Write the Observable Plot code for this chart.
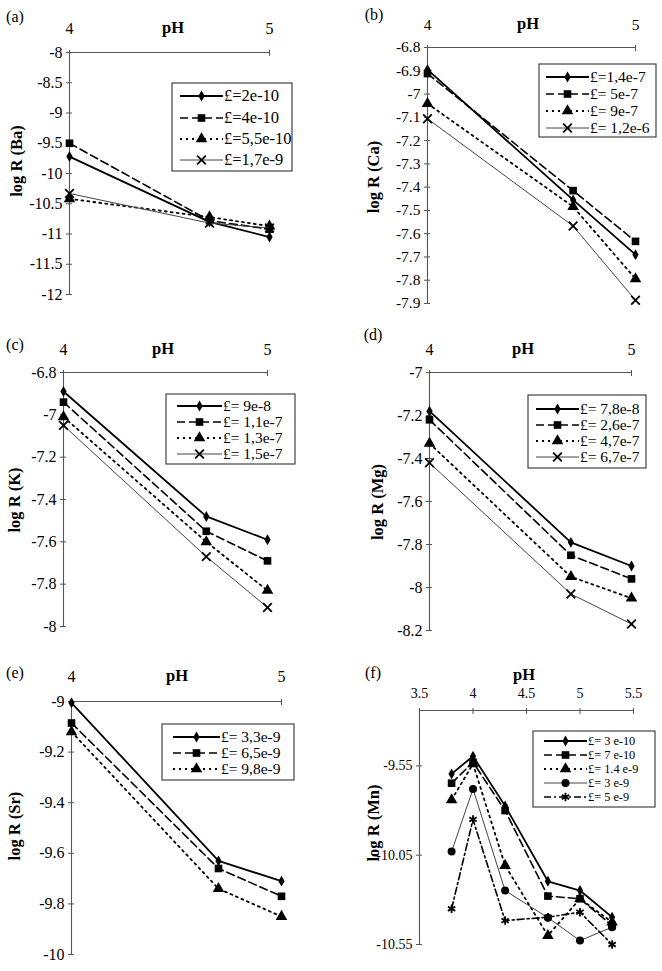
<!DOCTYPE html>
<html><head><meta charset="utf-8">
<script src="https://cdn.jsdelivr.net/npm/d3@7"></script>
<script src="https://cdn.jsdelivr.net/npm/@observablehq/plot@0.6"></script>
<style>
body{margin:0;background:#fff;}
#fig{position:relative;width:662px;height:971px;font-family:"Liberation Serif","Times New Roman",serif;overflow:hidden;}
.panel{position:absolute;}
</style></head><body><div id="fig"></div>
<script>
// ---------- DATA ----------
const pH3 = [4, 4.7, 5];
const pHMn = [3.8, 4.0, 4.3, 4.7, 5.0, 5.3];

const baNames = ["£=2e-10", "£=4e-10", "£=5,5e-10", "£=1,7e-9"];
const baValues = [
  [-9.72, -10.80, -11.05],
  [-9.50, -10.78, -10.92],
  [-10.42, -10.72, -10.87],
  [-10.33, -10.82, -10.90]
];
const baYTicks = [-8, -8.5, -9, -9.5, -10, -10.5, -11, -11.5, -12];

const caNames = ["£=1,4e-7", "£= 5e-7", "£= 9e-7", "£= 1,2e-6"];
const caValues = [
  [-6.895, -7.455, -7.69],
  [-6.912, -7.415, -7.633],
  [-7.041, -7.484, -7.794],
  [-7.106, -7.567, -7.886]
];
const caYTicks = [-6.8, -6.9, -7, -7.1, -7.2, -7.3, -7.4, -7.5, -7.6, -7.7, -7.8, -7.9];

const kNames = ["£= 9e-8", "£= 1,1e-7", "£= 1,3e-7", "£= 1,5e-7"];
const kValues = [
  [-6.89, -7.48, -7.59],
  [-6.94, -7.55, -7.69],
  [-7.01, -7.60, -7.83],
  [-7.05, -7.67, -7.91]
];
const kYTicks = [-6.8, -7, -7.2, -7.4, -7.6, -7.8, -8];

const mgNames = ["£= 7,8e-8", "£= 2,6e-7", "£= 4,7e-7", "£= 6,7e-7"];
const mgValues = [
  [-7.18, -7.79, -7.90],
  [-7.22, -7.85, -7.96],
  [-7.33, -7.95, -8.05],
  [-7.42, -8.03, -8.17]
];
const mgYTicks = [-7, -7.2, -7.4, -7.6, -7.8, -8, -8.2];

const srNames = ["£= 3,3e-9", "£= 6,5e-9", "£= 9,8e-9"];
const srValues = [
  [-9.005, -9.63, -9.71],
  [-9.085, -9.66, -9.77],
  [-9.12, -9.74, -9.85]
];
const srYTicks = [-9, -9.2, -9.4, -9.6, -9.8, -10];

const mnNames = ["£= 3 e-10", "£= 7 e-10", "£= 1.4 e-9", "£= 3 e-9", "£= 5 e-9"];
const mnValues = [
  [-9.595, -9.496, -9.774, -10.196, -10.248, -10.397],
  [-9.647, -9.530, -9.800, -10.279, -10.294, -10.444],
  [-9.740, -9.539, -10.108, -10.500, -10.294, -10.425],
  [-10.030, -9.679, -10.248, -10.400, -10.528, -10.453],
  [-10.350, -9.850, -10.416, -10.397, -10.369, -10.550]
];
const mnYTicks = [-9.55, -10.05, -10.55];
const xTicks45 = [4, 5];
const xTicksMn = [3.5, 4, 4.5, 5, 5.5];

// ---------- STYLES ----------
const AXIS = "#555";
const S_SOLID  = {stroke: "#000", w: 1.8, dash: null,      sym: "diamond",  r: 3.3, filled: true};
const S_DASH   = {stroke: "#000", w: 1.6, dash: "8,4",     sym: "square",   r: 4.3, filled: true};
const S_DOT    = {stroke: "#000", w: 1.8, dash: "2,4",     sym: "triangle", r: 4.3, filled: true};
const S_THIN   = {stroke: "#444", w: 1.0, dash: null,      sym: "times",    r: 4.0, filled: false};
const S_THINC  = {stroke: "#444", w: 1.0, dash: null,      sym: "circle",   r: 4.0, filled: true};
const S_DDOT   = {stroke: "#000", w: 1.6, dash: "7,3,2,3", sym: "asterisk", r: 4.0, filled: false};

const symbolMap = {diamond: d3.symbolDiamond, square: d3.symbolSquare, triangle: d3.symbolTriangle,
  times: d3.symbolTimes, circle: d3.symbolCircle, asterisk: d3.symbolAsterisk};

const panels = [
  {letter: "(a)", ylab: "log R (Ba)", names: baNames, values: baValues, xs: pH3, yTicks: baYTicks, xTicks: xTicks45,
   xDomain: [4, 5], yDomain: [-12, -8], styles: [S_SOLID, S_DASH, S_DOT, S_THIN],
   left: 0, top: 0, w: 331, h: 320, m: [52, 62, 26, 69], xPad: 24, fs: 16,
   letterPos: [15, 17], ylabPos: [17, 161], phPos: [173, 28],
   legend: {x: 172, y: 83, w: 120, h: 88, rows: [96, 118, 139, 160], lx0: 180, lx1: 223, fs: 16.5}},
  {letter: "(b)", ylab: "log R (Ca)", names: caNames, values: caValues, xs: pH3, yTicks: caYTicks, xTicks: xTicks45,
   xDomain: [4, 5], yDomain: [-7.9, -6.8], styles: [S_SOLID, S_DASH, S_DOT, S_THIN],
   left: 331, top: 0, w: 331, h: 320, m: [47, 27, 17, 96], xPad: 23, fs: 15.5,
   letterPos: [43, 15], ylabPos: [43, 177], phPos: [197, 24],
   legend: {x: 208, y: 64, w: 117, h: 73, rows: [77, 94, 111, 128], lx0: 215, lx1: 258, fs: 15.5}},
  {letter: "(c)", ylab: "log R (K)", names: kNames, values: kValues, xs: pH3, yTicks: kYTicks, xTicks: xTicks45,
   xDomain: [4, 5], yDomain: [-8, -6.8], styles: [S_SOLID, S_DASH, S_DOT, S_THIN],
   left: 0, top: 320, w: 331, h: 320, m: [52, 64, 14, 63], xPad: 23, fs: 16,
   letterPos: [15, 25], ylabPos: [15, 180], phPos: [163, 29],
   legend: {x: 166, y: 74, w: 129, h: 70, rows: [86, 102, 118, 134], lx0: 177, lx1: 222, fs: 15.5}},
  {letter: "(d)", ylab: "log R (Mg)", names: mgNames, values: mgValues, xs: pH3, yTicks: mgYTicks, xTicks: xTicks45,
   xDomain: [4, 5], yDomain: [-8.2, -7], styles: [S_SOLID, S_DASH, S_DOT, S_THIN],
   left: 331, top: 320, w: 331, h: 320, m: [52, 31, 10, 98], xPad: 23, fs: 16,
   letterPos: [42, 15], ylabPos: [47, 182], phPos: [192, 29],
   legend: {x: 197, y: 75, w: 118, h: 73, rows: [89, 105, 121, 137], lx0: 205, lx1: 248, fs: 15.5}},
  {letter: "(e)", ylab: "log R (Sr)", names: srNames, values: srValues, xs: pH3, yTicks: srYTicks, xTicks: xTicks45,
   xDomain: [4, 5], yDomain: [-10, -9], styles: [S_SOLID, S_DASH, S_DOT],
   left: 0, top: 640, w: 331, h: 331, m: [61, 50, 17, 71], xPad: 25, fs: 16,
   letterPos: [15, 33], ylabPos: [15, 186], phPos: [177, 36],
   legend: {x: 162, y: 84, w: 132, h: 56, rows: [97, 113, 129], lx0: 173, lx1: 220, fs: 15.5}},
  {letter: "(f)", ylab: "log R (Mn)", names: mnNames, values: mnValues, xs: pHMn, yTicks: mnYTicks, xTicks: xTicksMn,
   xDomain: [3.5, 5.5], yDomain: [-10.55, -9.24], styles: [S_SOLID, S_DASH, S_DOT, S_THINC, S_DDOT],
   left: 331, top: 640, w: 331, h: 331, m: [70, 29, 27, 88], xPad: 18, fs: 14,
   letterPos: [42, 33], ylabPos: [43, 183], phPos: [193, 35],
   legend: {x: 202, y: 91, w: 122, h: 76, rows: [101, 115, 129, 143, 157], lx0: 213, lx1: 256, fs: 12.3}}
];

const FONT = '"Liberation Serif","Times New Roman",serif';
const fig = document.getElementById("fig");

function seriesMarks(rows, st) {
  const lineOpts = {x: "x", y: "y", stroke: st.stroke, strokeWidth: st.w};
  if (st.dash) lineOpts.strokeDasharray = st.dash;
  const dotOpts = {x: "x", y: "y", symbol: st.sym, r: st.r};
  if (st.filled) { dotOpts.fill = "#000"; dotOpts.stroke = "none"; }
  else { dotOpts.fill = "none"; dotOpts.stroke = "#000"; dotOpts.strokeWidth = 1.8; }
  return [Plot.line(rows, lineOpts), Plot.dot(rows, dotOpts)];
}

for (const p of panels) {
  const [mt, mr, mb, ml] = p.m;
  const marks = [
    Plot.ruleY([p.yDomain[1]], {stroke: AXIS, strokeWidth: 1.1}),
    Plot.ruleX([p.xDomain[0]], {stroke: AXIS, strokeWidth: 1.1}),
    Plot.axisX({anchor: "top", ticks: p.xTicks, tickSize: 6, dy: 3, stroke: AXIS, tickFormat: () => "", label: null}),
    Plot.axisX({anchor: "top", ticks: p.xTicks, tickSize: 0, tickPadding: p.xPad - 5, tickFormat: d => String(d),
      label: null, fontSize: p.fs, fill: "#000"}),
    Plot.axisY({anchor: "left", ticks: p.yTicks, tickSize: 6, dx: 3, stroke: AXIS, tickFormat: () => "", label: null}),
    Plot.axisY({anchor: "left", ticks: p.yTicks, tickSize: 0, tickPadding: 7, tickFormat: d => String(d),
      label: null, fontSize: p.fs, fill: "#000"})
  ];
  p.names.forEach((name, i) => {
    const rows = p.xs.map((x, j) => ({x, y: p.values[i][j]}));
    marks.push(...seriesMarks(rows, p.styles[i]));
  });
  const svg = Plot.plot({
    width: p.w, height: p.h,
    marginTop: mt, marginRight: mr, marginBottom: mb, marginLeft: ml,
    x: {domain: p.xDomain},
    y: {domain: p.yDomain},
    style: {fontFamily: FONT, fontSize: p.fs + "px", background: "transparent", overflow: "visible", color: "#000"},
    marks
  });
  const s = d3.select(svg);
  s.append("text").attr("x", p.letterPos[0]).attr("y", p.letterPos[1] + 5)
    .attr("text-anchor", "middle").attr("font-size", 16).text(p.letter);
  s.append("text").attr("x", p.phPos[0]).attr("y", p.phPos[1] + 5)
    .attr("text-anchor", "middle").attr("font-size", 16.5).attr("font-weight", "bold").text("pH");
  s.append("text").attr("transform", `translate(${p.ylabPos[0] + 5},${p.ylabPos[1]}) rotate(-90)`)
    .attr("text-anchor", "middle").attr("font-size", 16.5).attr("font-weight", "bold").text(p.ylab);
  // legend
  const L = p.legend;
  const g = s.append("g").attr("text-anchor", "start");
  g.append("rect").attr("x", L.x).attr("y", L.y).attr("width", L.w).attr("height", L.h)
    .attr("fill", "#fff").attr("stroke", "#444").attr("stroke-width", 1.2);
  p.names.forEach((name, i) => {
    const st = p.styles[i];
    const yy = L.rows[i];
    const ln = g.append("line").attr("x1", L.lx0).attr("x2", L.lx1).attr("y1", yy).attr("y2", yy)
      .attr("stroke", st.stroke).attr("stroke-width", st.w);
    if (st.dash) ln.attr("stroke-dasharray", st.dash);
    const sym = d3.symbol(symbolMap[st.sym], Math.PI * st.r * st.r)();
    g.append("path").attr("d", sym).attr("transform", `translate(${(L.lx0 + L.lx1) / 2},${yy})`)
      .attr("fill", st.filled ? "#000" : "none").attr("stroke", st.filled ? "none" : "#000").attr("stroke-width", 1.8);
    g.append("text").attr("x", L.lx1 + 1).attr("y", yy + L.fs * 0.33).attr("font-size", L.fs)
      .attr("text-anchor", "start").text(name);
  });
  const wrap = document.createElement("div");
  wrap.className = "panel";
  wrap.style.left = p.left + "px";
  wrap.style.top = p.top + "px";
  wrap.appendChild(svg);
  fig.appendChild(wrap);
}
</script></body></html>
